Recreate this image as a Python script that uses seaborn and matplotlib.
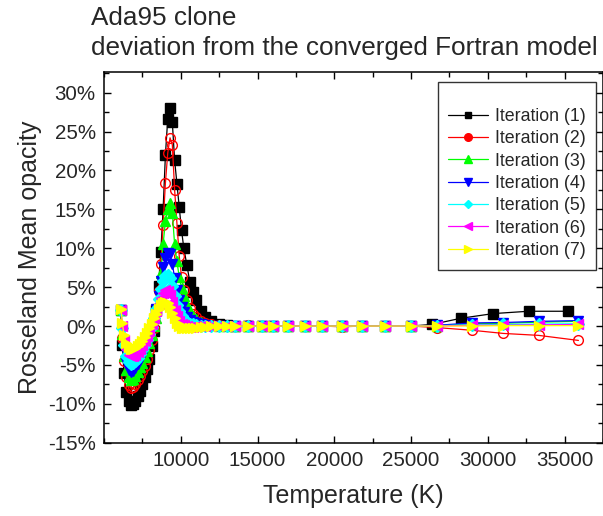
import numpy as np
import pandas as pd
import matplotlib
matplotlib.use("Agg")
import matplotlib.pyplot as plt
from matplotlib.lines import Line2D
from matplotlib.ticker import FuncFormatter, MultipleLocator
import seaborn as sns

# temperature grid (K) shared by iterations 2-7
temps = [6100, 6200, 6300, 6450, 6600, 6750, 6900, 7050, 7200, 7350,
         7500, 7650, 7800, 7950, 8100, 8250, 8400, 8550, 8700, 8850,
         9000, 9150, 9300, 9450, 9600, 9750, 9900, 10050, 10200, 10400,
         10600, 10800, 11000, 11300, 11600, 12000, 12500, 13000, 13500, 14400,
         15300, 16000, 17000, 18100, 19200, 20500, 21800, 23300, 25000, 26700,
         29000, 31000, 33300, 35900]
# iteration 1 has its own points in the hot tail
temps_it1 = temps[:49] + [26350, 28250, 30350, 32650, 35200]

# deviation in percent
it1 = [2.0, -2.5, -6.0, -8.5, -9.7, -10.1, -10.0, -9.6, -9.0, -8.3,
       -7.5, -6.6, -5.5, -4.2, -2.6, -0.6, 2.0, 5.2, 9.5, 15.0,
       22.0, 26.6, 28.0, 26.2, 21.3, 18.3, 15.3, 12.3, 10.0, 7.8,
       5.6, 4.4, 3.4, 1.9, 1.2, 0.6, 0.3, 0.15, 0.05, 0.0,
       0.0, 0.0, 0.0, 0.0, 0.0, 0.0, 0.0, 0.0, 0.0, 0.2,
       1.0, 1.6, 1.9, 1.9]
it2 = [2.0, -1.5, -4.5, -6.6, -7.6, -8.0, -7.9, -7.5, -7.0, -6.4,
       -5.8, -5.1, -4.2, -3.1, -1.8, -0.2, 1.8, 4.5, 8.0, 13.0,
       18.4, 22.2, 24.2, 23.3, 17.5, 13.2, 9.0, 6.3, 4.6, 3.3,
       2.3, 1.6, 1.1, 0.6, 0.35, 0.2, 0.1, 0.05, 0.0, 0.1,
       0.0, 0.0, 0.0, 0.0, 0.0, -0.1, 0.0, 0.0, 0.0, -0.2,
       -0.55, -0.95, -1.2, -1.85]
it3 = [2.0, -1.0, -3.8, -5.7, -6.6, -6.9, -6.8, -6.4, -5.9, -5.3,
       -4.7, -4.0, -3.2, -2.2, -1.1, 0.0, 1.0, 3.2, 6.8, 10.5,
       13.5, 15.0, 15.8, 14.5, 10.5, 8.3, 6.3, 4.9, 3.8, 2.7,
       1.9, 1.3, 0.9, 0.5, 0.3, 0.15, 0.05, 0.0, 0.0, 0.0,
       0.0, 0.0, 0.0, 0.0, 0.0, 0.0, 0.0, 0.0, 0.0, 0.05,
       0.3, 0.35, 0.5, 0.6]
it4 = [2.0, -0.6, -3.0, -4.8, -5.6, -5.9, -5.8, -5.4, -4.9, -4.4,
       -3.8, -3.1, -2.3, -1.4, -0.4, 0.8, 2.2, 3.9, 5.8, 7.6,
       8.8, 9.4, 9.2, 8.0, 6.2, 4.6, 3.4, 2.5, 1.8, 1.2,
       0.8, 0.5, 0.35, 0.2, 0.1, 0.05, 0.0, 0.0, 0.0, 0.0,
       0.0, 0.0, 0.0, 0.0, 0.0, 0.0, 0.0, 0.0, 0.0, 0.1,
       0.4, 0.45, 0.6, 0.7]
it5 = [2.0, -0.3, -2.4, -3.9, -4.6, -4.9, -4.8, -4.5, -4.1, -3.6,
       -3.1, -2.5, -1.8, -1.0, -0.1, 1.0, 2.2, 3.5, 4.8, 5.8,
       6.4, 6.6, 6.2, 5.1, 3.8, 2.7, 1.9, 1.3, 0.9, 0.5,
       0.3, 0.2, 0.1, 0.05, 0.0, 0.0, 0.0, 0.0, 0.0, 0.0,
       0.0, 0.0, 0.0, 0.0, 0.0, 0.0, 0.0, 0.0, 0.0, 0.05,
       0.15, 0.2, 0.25, 0.3]
it6 = [2.0, 0.0, -1.8, -3.0, -3.7, -3.9, -3.9, -3.7, -3.3, -2.9,
       -2.4, -1.9, -1.3, -0.6, 0.2, 1.0, 1.9, 2.8, 3.6, 4.2,
       4.6, 4.5, 4.0, 3.1, 2.1, 1.3, 0.7, 0.3, 0.1, 0.0,
       -0.1, -0.1, 0.0, 0.0, 0.0, 0.0, 0.0, 0.0, 0.0, 0.0,
       0.0, 0.0, 0.0, 0.0, 0.0, 0.0, 0.0, 0.0, 0.0, 0.0,
       0.1, 0.1, 0.15, 0.2]
it7 = [2.2, 0.4, -1.2, -2.2, -2.7, -2.9, -2.9, -2.8, -2.6, -2.3,
       -1.9, -1.4, -0.9, -0.3, 0.3, 1.0, 1.6, 2.2, 2.7, 3.0,
       3.1, 2.9, 2.4, 1.7, 1.0, 0.4, 0.0, -0.2, -0.3, -0.3,
       -0.3, -0.2, -0.2, -0.1, -0.1, -0.05, 0.0, 0.0, 0.0, 0.0,
       0.0, 0.0, 0.0, 0.0, 0.0, 0.0, 0.0, 0.0, 0.0, 0.0,
       0.0, 0.05, 0.05, 0.05]

labels = ["Iteration (1)", "Iteration (2)", "Iteration (3)", "Iteration (4)",
          "Iteration (5)", "Iteration (6)", "Iteration (7)"]

sns.set_style("ticks")
plt.rcParams["font.family"] = ["Liberation Sans", "DejaVu Sans"]

fig = plt.figure(figsize=(6.03, 5.16), dpi=100)
ax = fig.add_axes([104 / 603, 1 - 442.7 / 516, 499 / 603, 371 / 516])

series = [
    (temps_it1, it1, "black", "s", "black", 6.5),
    (temps, it2, "red", "o", "none", 7.0),
    (temps, it3, "#00ff00", "^", "#00ff00", 7.5),
    (temps, it4, "blue", "v", "blue", 7.5),
    (temps, it5, "cyan", "D", "cyan", 6.0),
    (temps, it6, "magenta", "<", "magenta", 7.5),
    (temps, it7, "yellow", ">", "yellow", 7.5),
]

for t, v, col, mk, fc, ms in series:
    df = pd.DataFrame({"T": t, "dev": v})
    sns.lineplot(data=df, x="T", y="dev", ax=ax, color=col, marker=mk,
                 markersize=ms, markerfacecolor=fc, markeredgecolor=col,
                 markeredgewidth=1.0, linewidth=0.9, sort=False, legend=False)

ax.set_xlim(5000, 37500)
ax.set_ylim(-15, 32.7)
ax.set_xticks([10000, 15000, 20000, 25000, 30000, 35000])
ax.xaxis.set_minor_locator(MultipleLocator(2500))
ax.yaxis.set_major_locator(MultipleLocator(5))
ax.yaxis.set_minor_locator(MultipleLocator(2.5))
ax.yaxis.set_major_formatter(FuncFormatter(lambda v, p: f"{v:.0f}%"))

ax.tick_params(which="both", direction="in", top=True, right=True,
               width=1.0, labelsize=14.8, pad=6, color="black")
ax.tick_params(which="major", length=5)
ax.tick_params(which="minor", length=3.5)
for s in ax.spines.values():
    s.set_linewidth(1.1)
    s.set_color("black")

ax.set_xlabel("Temperature (K)", fontsize=18, labelpad=10)
ax.set_ylabel("Rosseland Mean opacity", fontsize=18, labelpad=4)

fig.text(91 / 603, 1 - 6 / 516, "Ada95 clone\ndeviation from the converged Fortran model",
         fontsize=18.8, ha="left", va="top", linespacing=1.3)

handles = [Line2D([], [], color=col, marker=mk, markersize=ms - 1.5,
                  markerfacecolor=col, markeredgecolor=col, linewidth=0.9)
           for _, _, col, mk, _, ms in series]
leg = ax.legend(handles, labels, loc="upper right",
                bbox_to_anchor=(596 / 603, 1 - 82 / 516),
                bbox_transform=fig.transFigure, fontsize=12.8,
                title=" ", title_fontsize=8,
                frameon=True, fancybox=False, edgecolor="black",
                handlelength=2.25, handletextpad=0.35, labelspacing=0.3,
                borderpad=0.6, borderaxespad=0)
leg.get_frame().set_linewidth(1.0)

fig.savefig("out.png", dpi=100)
